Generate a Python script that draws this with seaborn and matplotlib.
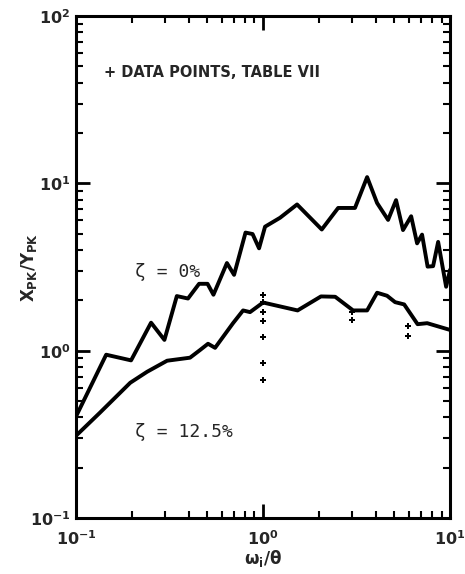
import numpy as np
import pandas as pd
import matplotlib
matplotlib.use("Agg")
import matplotlib.pyplot as plt
import matplotlib.ticker as mticker
import seaborn as sns

# zeta = 0% curve
x_z0 = [0.10, 0.145, 0.197, 0.252, 0.297, 0.346, 0.397, 0.455, 0.505, 0.543,
        0.641, 0.700, 0.806, 0.879, 0.952, 1.025, 1.233, 1.52, 2.06, 2.52,
        3.10, 3.60, 4.07, 4.66, 5.14, 5.60, 6.19, 6.66, 7.08, 7.58,
        8.11, 8.63, 9.52, 10.0]
y_z0 = [0.404, 0.946, 0.875, 1.47, 1.16, 2.12, 2.05, 2.51, 2.51, 2.16,
        3.34, 2.84, 5.08, 4.98, 4.09, 5.51, 6.23, 7.48, 5.30, 7.13,
        7.13, 10.9, 7.63, 6.05, 7.94, 5.26, 6.36, 4.38, 4.94, 3.18,
        3.20, 4.47, 2.41, 3.05]

# zeta = 12.5% curve
x_z125 = [0.10, 0.134, 0.195, 0.240, 0.307, 0.407, 0.461, 0.508, 0.554, 0.691,
          0.782, 0.852, 1.00, 1.53, 2.04, 2.43, 3.03, 3.60, 4.07, 4.60,
          5.08, 5.68, 6.70, 7.54, 10.0]
y_z125 = [0.310, 0.425, 0.643, 0.748, 0.871, 0.908, 1.01, 1.10, 1.04, 1.46,
          1.74, 1.70, 1.94, 1.74, 2.11, 2.10, 1.74, 1.74, 2.22, 2.13,
          1.95, 1.89, 1.44, 1.46, 1.33]

# data points, table VII
x_pts = [1.0, 1.0, 1.0, 1.0, 1.0, 1.0, 1.0, 3.0, 3.0, 5.95, 5.95]
y_pts = [2.16, 1.95, 1.70, 1.51, 1.21, 0.848, 0.670, 1.70, 1.52, 1.40, 1.23]

x_ticks = [0.1, 1.0, 10.0]
x_ticklabels = [r"$\mathbf{10^{-1}}$", r"$\mathbf{10^{0}}$", r"$\mathbf{10^{1}}$"]
y_ticks = [0.1, 1.0, 10.0, 100.0]
y_ticklabels = [r"$\mathbf{10^{-1}}$", r"$\mathbf{10^{0}}$", r"$\mathbf{10^{1}}$", r"$\mathbf{10^{2}}$"]

sns.set_style("ticks")
plt.rcParams["font.family"] = ["DejaVu Sans"]

fig = plt.figure(figsize=(4.65, 5.74), dpi=100)
ax = fig.add_axes([0.1634, 0.0976, 0.968 - 0.1634, 0.972 - 0.0976])

df0 = pd.DataFrame({"x": x_z0, "y": y_z0})
df1 = pd.DataFrame({"x": x_z125, "y": y_z125})
dfp = pd.DataFrame({"x": x_pts, "y": y_pts})

sns.lineplot(data=df0, x="x", y="y", ax=ax, color="black", lw=2.8,
             sort=False, estimator=None)
sns.lineplot(data=df1, x="x", y="y", ax=ax, color="black", lw=2.8,
             sort=False, estimator=None)
sns.scatterplot(data=dfp, x="x", y="y", ax=ax, color="black", marker="P",
                s=22, linewidth=0, zorder=5)

ax.set_xscale("log")
ax.set_yscale("log")
ax.set_xlim(0.1, 10)
ax.set_ylim(0.1, 100)

ax.xaxis.set_major_locator(mticker.FixedLocator(x_ticks))
ax.xaxis.set_major_formatter(mticker.FixedFormatter(x_ticklabels))
ax.yaxis.set_major_locator(mticker.FixedLocator(y_ticks))
ax.yaxis.set_major_formatter(mticker.FixedFormatter(y_ticklabels))
ax.xaxis.set_minor_locator(mticker.LogLocator(base=10, subs=np.arange(2, 10)))
ax.yaxis.set_minor_locator(mticker.LogLocator(base=10, subs=np.arange(2, 10)))
ax.xaxis.set_minor_formatter(mticker.NullFormatter())
ax.yaxis.set_minor_formatter(mticker.NullFormatter())

ax.tick_params(which="both", direction="in", top=True, right=True, color="black")
ax.tick_params(which="major", length=10, width=2, labelsize=11.5)
ax.tick_params(axis="y", which="major", pad=4)
ax.tick_params(axis="x", which="major", pad=8)
ax.tick_params(which="minor", length=5, width=1.5)
for s in ax.spines.values():
    s.set_linewidth(2.2)
    s.set_color("black")

ax.set_xlabel(r"$\mathbf{\omega_i/\theta}$", fontsize=12, labelpad=0)
ax.set_ylabel(r"$\mathbf{X_{PK}/Y_{PK}}$", fontsize=12)
ax.yaxis.set_label_coords(-0.1, 0.5)

ax.text(0.075, 0.888, "+ DATA POINTS, TABLE VII", transform=ax.transAxes,
        fontsize=10.5, fontweight="bold", ha="left", va="center")
ax.text(0.158, 0.49, "ζ = 0%", transform=ax.transAxes,
        fontsize=13, family="DejaVu Sans Mono", ha="left", va="center")
ax.text(0.158, 0.171, "ζ = 12.5%", transform=ax.transAxes,
        fontsize=13, family="DejaVu Sans Mono", ha="left", va="center")

fig.savefig("out.png", dpi=100, facecolor="white")
